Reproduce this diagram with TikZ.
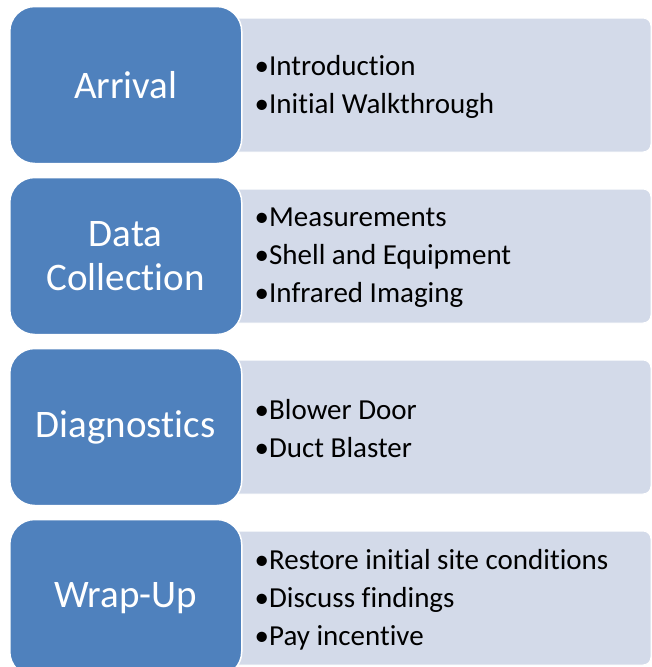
\documentclass[tikz,border=0pt]{standalone}
\usepackage{fontspec}
\setmainfont{Carlito}[Ligatures=NoCommon, RawFeature={-calt;-clig}]
\usetikzlibrary{positioning}
\definecolor{stageblue}{HTML}{4F81BD}
\definecolor{listgray}{HTML}{D3DAE9}
\tikzstyle{stage} = [rectangle, rounded corners=25pt, minimum width=232pt, minimum height=157pt, text width=220pt, align=center, draw=white, line width=1.5pt, fill=stageblue, text=white, font=\fontsize{39}{44}\selectfont]
\tikzstyle{detail} = [rectangle, rounded corners=8pt, minimum width=438pt, minimum height=134pt, draw=white, line width=1pt, fill=listgray]
\tikzstyle{items} = [align=left, inner sep=0pt, yshift=-2pt, font=\fontsize{29}{38}\selectfont]

\begin{document}
\begin{tikzpicture}

        \useasboundingbox (0,0) rectangle (652pt,-667pt);

        \node (arrivalbox) [detail] at (432pt,-85pt) {};
        \node (collectbox) [detail, below=36pt of arrivalbox] {};
        \node (diagbox) [detail, below=36pt of collectbox] {};
        \node (wrapbox) [detail, below=36pt of diagbox] {};

        \node (arrival) [stage, left=-30pt of arrivalbox] {Arrival};
        \node (collect) [stage, left=-30pt of collectbox] {Data\\Collection};
        \node (diag) [stage, left=-30pt of diagbox] {Diagnostics};
        \node (wrap) [stage, left=-30pt of wrapbox] {Wrap-Up};

        \node (arrivallist) [items, right=12pt of arrival] {•Introduction\\•Initial Walkthrough};
        \node (collectlist) [items, right=12pt of collect] {•Measurements\\•Shell and Equipment\\•Infrared Imaging};
        \node (diaglist) [items, right=12pt of diag] {•Blower Door\\•Duct Blaster};
        \node (wraplist) [items, right=12pt of wrap] {•Restore initial site conditions\\•Discuss findings\\•Pay incentive};

      \end{tikzpicture}
\end{document}
